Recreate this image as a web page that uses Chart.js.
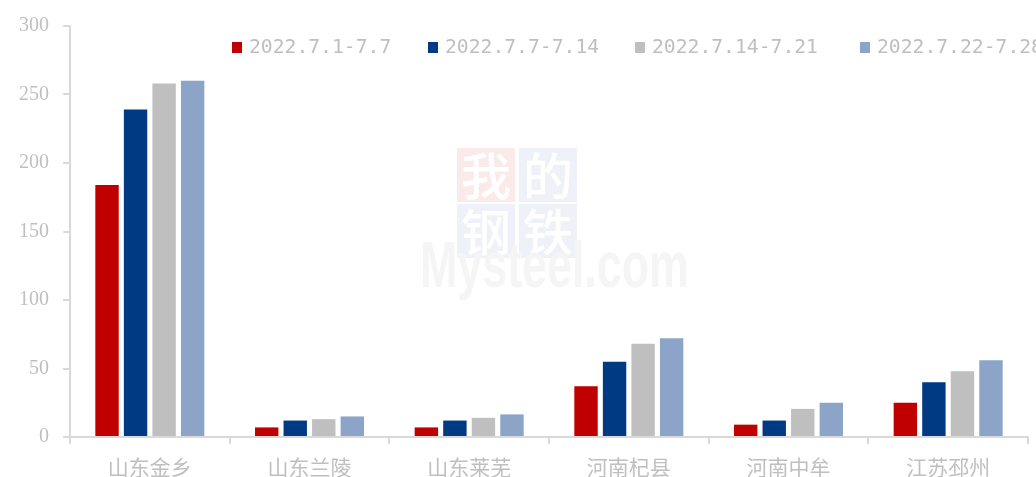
<!DOCTYPE html>
<html>
<head>
<meta charset="utf-8">
<script src="https://cdn.jsdelivr.net/npm/chart.js@4.4.1/dist/chart.umd.min.js"></script>
<style>
  html, body { margin: 0; padding: 0; background: #ffffff; }
  #wrap { width: 1036px; height: 477px; position: relative; }
</style>
</head>
<body>
<div id="wrap"><canvas id="c" width="1036" height="477"></canvas></div>
<script>
// ---- data ----
const categories = ['山东金乡', '山东兰陵', '山东莱芜', '河南杞县', '河南中牟', '江苏邳州'];
const seriesLabels = ['2022.7.1-7.7', '2022.7.7-7.14', '2022.7.14-7.21', '2022.7.22-7.28'];
const week1 = [184, 7, 7, 37, 9, 25];
const week2 = [239, 12, 12, 55, 12, 40];
const week3 = [258, 13, 14, 68, 20.5, 48];
const week4 = [260, 15, 16.5, 72, 25, 56];
const yTicks = [0, 50, 100, 150, 200, 250, 300];

// ---- styles ----
const colors = ['#C00000', '#003A82', '#BFBFBF', '#8CA4C8'];
const axisColor = '#D9D9D9';
const textColor = '#BFBFBF';

const seriesValues = [week1, week2, week3, week4];

const watermark = {
  id: 'watermark',
  beforeDatasetsDraw(chart) {
    const ctx = chart.ctx;
    ctx.save();
    const boxes = [
      { x: 457, y: 148, c: '#FBEAEA', t: '我' },
      { x: 519, y: 148, c: '#EEF1F7', t: '的' },
      { x: 457, y: 204, c: '#EEF1F7', t: '钢' },
      { x: 519, y: 204, c: '#EEF1F7', t: '铁' }
    ];
    ctx.textAlign = 'center';
    ctx.textBaseline = 'middle';
    ctx.font = '500 50px "Noto Sans CJK SC"';
    boxes.forEach(b => {
      ctx.fillStyle = b.c;
      ctx.fillRect(b.x, b.y, 58, 54);
      ctx.fillStyle = '#FFFFFF';
      ctx.fillText(b.t, b.x + 29, b.y + 28);
    });
    ctx.translate(420, 287);
    ctx.scale(0.7, 1);
    ctx.textAlign = 'left';
    ctx.textBaseline = 'alphabetic';
    ctx.font = 'bold 64px "Liberation Sans"';
    ctx.fillStyle = '#F5F5F5';
    ctx.fillText('Mysteel.com', 0, 0);
    ctx.restore();
  }
};

const customLegend = {
  id: 'customLegend',
  afterDraw(chart) {
    const ctx = chart.ctx;
    const starts = [232, 428, 635, 860];
    ctx.save();
    ctx.font = '19.7px "DejaVu Sans Mono"';
    ctx.textBaseline = 'middle';
    ctx.textAlign = 'left';
    chart.data.datasets.forEach((ds, i) => {
      const x = starts[i];
      ctx.fillStyle = ds.backgroundColor;
      ctx.fillRect(x, 42, 10, 11);
      ctx.fillStyle = textColor;
      ctx.fillText(ds.label, x + 17, 48);
    });
    ctx.restore();
  }
};

new Chart(document.getElementById('c'), {
  type: 'bar',
  data: {
    labels: categories,
    datasets: seriesLabels.map((lab, i) => ({
      label: lab,
      data: seriesValues[i],
      backgroundColor: colors[i],
      borderWidth: 0,
      categoryPercentage: 0.715,
      barPercentage: 0.82
    }))
  },
  options: {
    responsive: false,
    animation: false,
    devicePixelRatio: 1,
    layout: { padding: { top: 17, right: 8, left: 0, bottom: 0 } },
    plugins: {
      legend: { display: false },
      tooltip: { enabled: false }
    },
    scales: {
      x: {
        offset: true,
        grid: {
          display: true,
          offset: true,
          drawOnChartArea: false,
          drawTicks: true,
          tickLength: 7,
          color: axisColor,
          lineWidth: 2
        },
        border: { display: true, color: axisColor, width: 2 },
        ticks: {
          color: textColor,
          font: { family: '"Noto Sans CJK SC"', size: 21 },
          padding: 10,
          maxRotation: 0
        },
        afterFit(scale) { scale.height = 40; }
      },
      y: {
        min: 0,
        max: 300,
        afterBuildTicks(scale) { scale.ticks = yTicks.map(v => ({ value: v })); },
        grid: {
          display: true,
          drawOnChartArea: false,
          drawTicks: true,
          tickLength: 7,
          color: axisColor,
          lineWidth: 2
        },
        border: { display: true, color: axisColor, width: 2 },
        ticks: {
          color: textColor,
          font: { family: '"Liberation Serif"', size: 20 },
          padding: 14
        },
        afterFit(scale) { scale.width = 70; }
      }
    }
  },
  plugins: [watermark, customLegend]
});
</script>
</body>
</html>
